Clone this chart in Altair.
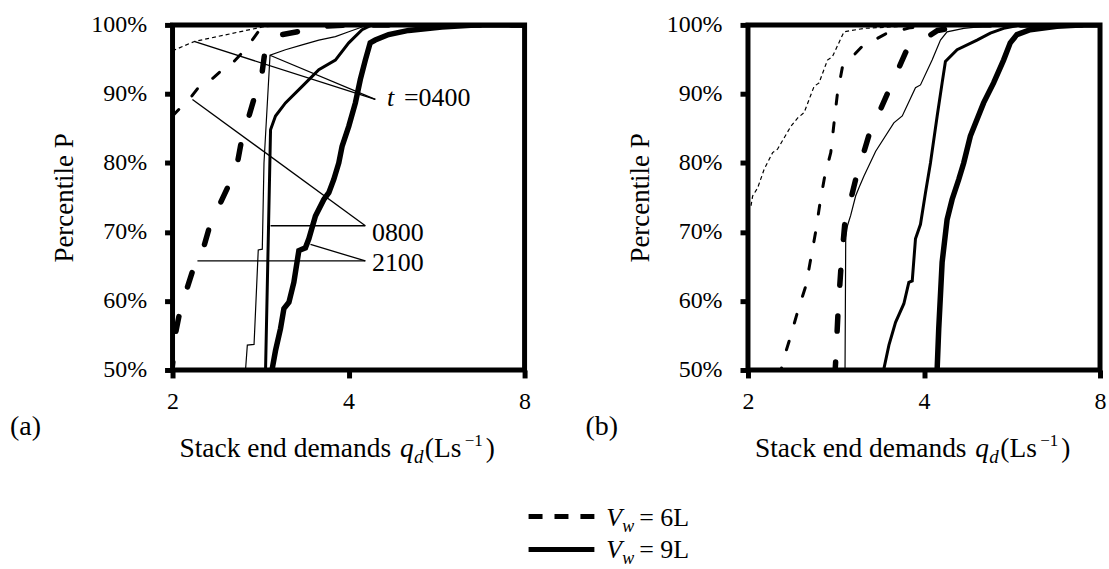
import altair as alt
import pandas as pd

FONT = "Liberation Serif"
W, H = 353, 346

# ---------------- data ----------------
# panel (a)
a_0400_6L_q = [2.0, 2.02, 2.18, 2.85, 3.2, 8.0]
a_0400_6L_p = [96.2, 96.4, 97.6, 99.7, 100, 100]
a_0800_6L_q = [2.0, 2.053, 2.136, 2.222, 2.31, 2.418, 2.514, 2.614, 2.70, 2.83, 2.95, 8.0]
a_0800_6L_p = [86.8, 87.8, 89.2, 91.1, 91.8, 93.3, 94.2, 95.7, 97.1, 99.5, 100, 100]
a_2100_6L_q = [1.99, 2.01, 2.026, 2.066, 2.121, 2.192, 2.265, 2.325, 2.418, 2.515, 2.582,
               2.633, 2.703, 2.774, 2.848, 2.885, 3.081, 3.421, 3.605, 4.0, 8.0]
a_2100_6L_p = [49.0, 52.5, 55.5, 59.1, 62.0, 65.8, 68.0, 71.4, 74.3, 77.4, 80.0,
               83.9, 86.8, 90.1, 93.3, 96.9, 98.6, 99.3, 99.8, 100, 100]
a_0400_9L_q = [2.66, 2.667, 2.685, 2.757, 2.803, 2.848, 2.867, 2.936, 3.12, 3.332, 3.558,
               3.798, 4.003, 4.219, 4.33, 8.0]
a_0400_9L_p = [49.0, 50.2, 53.6, 53.7, 67.4, 67.5, 80.0, 95.6, 96.4, 97.1, 97.8,
               98.3, 99.0, 99.7, 100, 100]
a_0800_9L_q = [2.874, 2.885, 2.942, 3.0, 3.12, 3.332, 3.558, 3.798, 4.003, 4.219, 4.387, 8.0]
a_0800_9L_p = [49.0, 50.2, 84.8, 86.8, 88.7, 91.1, 93.5, 94.9, 97.4, 99.3, 100, 100]
a_2100_9L_q = [2.955, 2.962, 3.0, 3.06, 3.101, 3.163, 3.225, 3.289, 3.375, 3.421, 3.511,
               3.629, 3.701, 3.774, 3.849, 3.899, 4.003, 4.109, 4.19, 4.273, 4.356,
               4.443, 4.684, 5.067, 5.775, 6.582, 8.0]
a_2100_9L_p = [49.0, 50.2, 52.8, 56.0, 58.9, 59.8, 62.7, 67.3, 67.7, 69.0, 72.3,
               74.7, 75.7, 77.6, 80.0, 82.4, 85.3, 88.7, 92.1, 94.9, 97.4,
               97.8, 98.6, 99.2, 99.7, 100, 100]

# panel (b)
b_0400_6L_q = [1.99, 2.024, 2.037, 2.078, 2.132, 2.204, 2.247, 2.368, 2.431, 2.495, 2.595,
               2.646, 2.735, 2.789, 2.919, 3.158, 3.695, 4.2, 8.0]
b_0400_6L_p = [73.0, 73.8, 75.2, 76.4, 79.1, 81.5, 82.0, 85.3, 86.5, 87.3, 91.1,
               91.6, 94.9, 95.4, 99.0, 99.5, 99.8, 100, 100]
b_0800_6L_q = [2.268, 2.292, 2.362, 2.431, 2.512, 2.561, 2.612, 2.656, 2.706, 2.771, 2.807,
               2.844, 2.901, 3.129, 3.439, 3.794, 4.186, 8.0]
b_0800_6L_p = [49.0, 51.1, 54.7, 58.4, 62.2, 66.1, 70.1, 74.2, 78.1, 81.5, 85.8,
               90.0, 93.9, 96.8, 98.7, 99.6, 100, 100]
b_2100_6L_q = [2.815, 2.826, 2.851, 2.882, 2.927, 3.056, 3.217, 3.466, 3.734, 4.219, 4.801, 8.0]
b_2100_6L_p = [49.0, 51.5, 58.3, 64.4, 71.1, 77.6, 83.9, 90.1, 96.3, 99.2, 100, 100]
b_0400_9L_q = [2.927, 2.931, 2.939, 2.959, 2.997, 3.056, 3.096, 3.158, 3.307, 3.552, 3.672,
               3.868, 3.945, 4.13, 4.268, 4.38, 4.678, 5.333, 8.0]
b_0400_9L_p = [49.0, 50.2, 69.2, 70.9, 72.4, 75.2, 76.4, 78.1, 81.7, 85.8, 86.8,
               90.9, 91.3, 94.9, 97.8, 99.0, 99.5, 100, 100]
b_0800_9L_q = [3.398, 3.416, 3.484, 3.576, 3.695, 3.768, 3.819, 3.868, 3.945, 4.024, 4.103,
               4.213, 4.296, 4.352, 4.557, 4.929, 5.194, 5.472, 5.842, 8.0]
b_0800_9L_p = [49.0, 50.2, 53.6, 56.9, 59.6, 62.7, 62.9, 69.0, 71.1, 75.7, 80.0,
               86.8, 91.6, 94.7, 96.4, 97.8, 98.8, 99.5, 100, 100]
b_2100_9L_q = [4.206, 4.213, 4.239, 4.296, 4.381, 4.468, 4.586, 4.677, 4.801, 5.058, 5.261,
               5.472, 5.618, 5.768, 6.077, 6.75, 7.39, 8.0]
b_2100_9L_p = [49.0, 50.2, 56.0, 65.6, 71.8, 74.7, 77.6, 80.0, 83.9, 88.7, 91.6,
               94.9, 97.4, 98.6, 99.3, 99.8, 100, 100]

# annotation leader lines (panel a): start (q1,P1) -> end (q2,P2)
ann_q1 = [2.177, 2.935, 2.163, 2.942, 2.206, 3.443]
ann_p1 = [97.6, 95.6, 89.2, 70.9, 65.8, 68.2]
ann_q2 = [4.444, 4.444, 4.273, 4.273, 4.273, 4.273]
ann_p2 = [89.2, 89.2, 70.9, 70.9, 65.8, 65.8]
ann_text = ["0800", "2100"]
ann_text_q = [4.386, 4.386]
ann_text_p = [69.9, 65.5]
t_label_q, t_label_p = 4.653, 89.4

x_ticks = [2, 4, 8]
y_ticks = [50, 60, 70, 80, 90, 100]

STYLES = {
    "0400_6L": dict(strokeWidth=1.2, strokeDash=[4, 3], strokeCap="butt"),
    "0800_6L": dict(strokeWidth=3, strokeDash=[9, 19], strokeCap="round"),
    "2100_6L": dict(strokeWidth=5.5, strokeDash=[15, 31], strokeCap="round"),
    "0400_9L": dict(strokeWidth=1.2, strokeCap="butt"),
    "0800_9L": dict(strokeWidth=3, strokeCap="round"),
    "2100_9L": dict(strokeWidth=5.5, strokeCap="round"),
}

X_SCALE = alt.Scale(type="log", base=2, domain=[2, 8], nice=False)
Y_SCALE = alt.Scale(domain=[50, 100], nice=False, zero=False)

x_axis = alt.Axis(values=x_ticks, labelExpr="format(datum.value, 'd')", title=None,
                  grid=False, domain=False, labelFlush=False, labelOverlap=False,
                  labelPadding=12, tickSize=8, tickWidth=5, tickColor="black",
                  labelFont=FONT, labelFontSize=24, labelColor="black")
y_axis = alt.Axis(values=y_ticks, labelExpr="datum.value + '%'", title="Percentile P",
                  titleX=-108, titleY=H / 2, titleAngle=270, titleAlign="center",
                  titleBaseline="middle", titleFont=FONT, titleFontSize=27,
                  titleFontWeight="normal", titleColor="black",
                  grid=False, domain=False, labelPadding=18, tickSize=8, tickWidth=5,
                  tickColor="black", labelFont=FONT, labelFontSize=24, labelColor="black")


def txt(text, x, y, size=27, italic=False, align="left", baseline="alphabetic"):
    kw = dict(text=text, font=FONT, fontSize=size, align=align, baseline=baseline, color="black")
    if italic:
        kw["fontStyle"] = "italic"
    return alt.Chart(pd.DataFrame({"t": [text]})).mark_text(**kw).encode(
        x=alt.value(x), y=alt.value(y))


def x_title(x0):
    base = 433
    return [
        txt("Stack end demands", x0, base, size=27.5),
        txt("q", x0 + 221, base, size=27.5, italic=True),
        txt("d", x0 + 235, base + 6, size=19, italic=True),
        txt("(Ls", x0 + 246, base, size=27.5),
        txt("\u22121", x0 + 286, base - 11, size=17),
        txt(")", x0 + 307, base, size=27.5),
    ]


def panel(series, tag, extra):
    layers = []
    # invisible anchor that fixes the top of the layout
    layers.append(alt.Chart(pd.DataFrame({"a": [0]})).mark_rule(opacity=0, strokeWidth=1).encode(
        x=alt.value(0), x2=alt.value(10), y=alt.value(-20)))
    for name, (qs, ps) in series.items():
        df = pd.DataFrame({"q": qs, "P": ps, "i": list(range(len(qs)))})
        layers.append(alt.Chart(df).mark_line(color="black", clip=True, **STYLES[name]).encode(
            x=alt.X("q:Q", scale=X_SCALE, axis=x_axis),
            y=alt.Y("P:Q", scale=Y_SCALE, axis=y_axis),
            order="i:Q"))
    layers += extra
    layers.append(txt(tag, -163, 403, size=28, baseline="middle"))
    layers += x_title(7)
    return alt.layer(*layers).properties(width=W, height=H)


# annotations in panel (a)
ann_df = pd.DataFrame({"q1": ann_q1, "P1": ann_p1, "q2": ann_q2, "P2": ann_p2})
ann_rules = alt.Chart(ann_df).mark_rule(color="black", strokeWidth=1.3).encode(
    x=alt.X("q1:Q", scale=X_SCALE, axis=x_axis), x2="q2:Q",
    y=alt.Y("P1:Q", scale=Y_SCALE, axis=y_axis), y2="P2:Q")
ann_labels = alt.Chart(pd.DataFrame({"q": ann_text_q, "P": ann_text_p, "t": ann_text})).mark_text(
    font=FONT, fontSize=26, align="left", baseline="middle", color="black").encode(
    x=alt.X("q:Q", scale=X_SCALE, axis=x_axis), y=alt.Y("P:Q", scale=Y_SCALE, axis=y_axis),
    text="t:N")
t_df = pd.DataFrame({"q": [t_label_q], "P": [t_label_p]})
t_italic = alt.Chart(t_df).mark_text(text="t", font=FONT, fontSize=26, fontStyle="italic",
                                     align="left", baseline="middle", color="black").encode(
    x=alt.X("q:Q", scale=X_SCALE, axis=x_axis), y=alt.Y("P:Q", scale=Y_SCALE, axis=y_axis))
t_rest = alt.Chart(t_df).mark_text(text="=0400", font=FONT, fontSize=26, dx=17,
                                   align="left", baseline="middle", color="black").encode(
    x=alt.X("q:Q", scale=X_SCALE, axis=x_axis), y=alt.Y("P:Q", scale=Y_SCALE, axis=y_axis))

# legend (drawn below the panels, positioned relative to panel a)
one = pd.DataFrame({"a": [0]})
leg_y1, leg_y2 = 493, 526
legend = [
    alt.Chart(one).mark_rule(color="black", strokeWidth=5, strokeDash=[14, 12]).encode(
        x=alt.value(357), x2=alt.value(423), y=alt.value(leg_y1)),
    alt.Chart(one).mark_rule(color="black", strokeWidth=5).encode(
        x=alt.value(357), x2=alt.value(423), y=alt.value(leg_y2)),
    txt("V", 435, leg_y1 + 9, size=26, italic=True),
    txt("w", 451, leg_y1 + 15, size=18, italic=True),
    txt("= 6L", 468, leg_y1 + 9, size=26),
    txt("V", 435, leg_y2 + 9, size=26, italic=True),
    txt("w", 451, leg_y2 + 15, size=18, italic=True),
    txt("= 9L", 468, leg_y2 + 9, size=26),
]

series_a = {
    "0400_6L": (a_0400_6L_q, a_0400_6L_p), "0800_6L": (a_0800_6L_q, a_0800_6L_p),
    "2100_6L": (a_2100_6L_q, a_2100_6L_p), "0400_9L": (a_0400_9L_q, a_0400_9L_p),
    "0800_9L": (a_0800_9L_q, a_0800_9L_p), "2100_9L": (a_2100_9L_q, a_2100_9L_p),
}
series_b = {
    "0400_6L": (b_0400_6L_q, b_0400_6L_p), "0800_6L": (b_0800_6L_q, b_0800_6L_p),
    "2100_6L": (b_2100_6L_q, b_2100_6L_p), "0400_9L": (b_0400_9L_q, b_0400_9L_p),
    "0800_9L": (b_0800_9L_q, b_0800_9L_p), "2100_9L": (b_2100_9L_q, b_2100_9L_p),
}

pa = panel(series_a, "(a)", [ann_rules, ann_labels, t_italic, t_rest] + legend)
pb = panel(series_b, "(b)", [])

chart = alt.hconcat(pa, pb, spacing=224, bounds="flush").properties(
    padding={"left": 7, "top": 1.2, "right": 0, "bottom": 0},
    autosize=alt.AutoSizeParams(type="pad"),
    background="white",
).configure_view(stroke="black", strokeWidth=5).configure_text(font=FONT).configure_axis(
    labelFont=FONT, titleFont=FONT)

chart.save("out.html", embed_options={"renderer": "svg", "actions": False})
